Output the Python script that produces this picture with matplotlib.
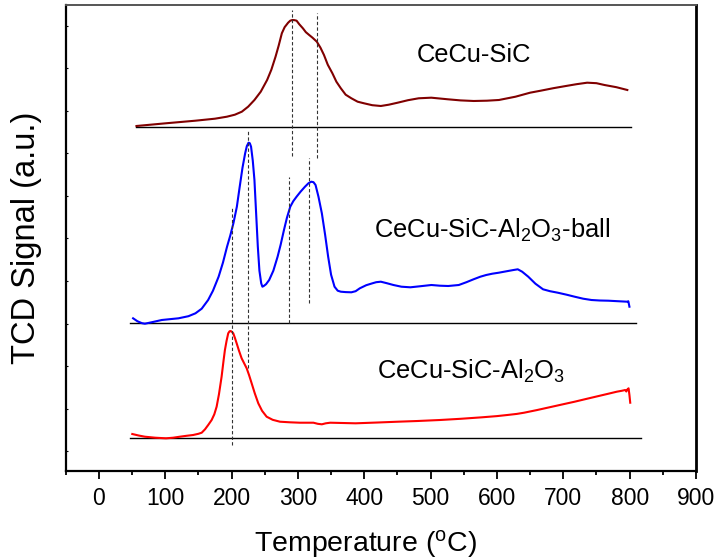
import numpy as np
import matplotlib
matplotlib.use('Agg')
import matplotlib.pyplot as plt
from matplotlib.ticker import MultipleLocator

plt.rcParams['font.family'] = ['Liberation Sans', 'DejaVu Sans']
plt.rcParams['mathtext.default'] = 'regular'

# temperature (C) and TCD signal above each baseline (a.u.)
t_sic = [56.7, 101, 145.6, 175, 193, 205, 215.5, 225, 234.5, 244, 253.6, 260, 266.3, 271,
         275.8, 280, 285.3, 288.5, 291.7, 295, 298, 302, 307.5, 312, 317, 322, 328.5, 334,
         339.3, 345, 352, 358, 364.7, 372, 380.6, 390, 399.6, 412, 425, 437, 450.4, 466,
         482, 501, 526, 545, 565, 585, 603, 628, 650, 666, 685, 704, 720, 736, 750, 762,
         780, 796.5]
s_sic = [0.7, 3.4, 6, 8, 10, 12, 15, 20, 26.7, 35, 46.7, 57, 70, 81,
         93.4, 99.5, 104, 106, 106.7, 106.5, 106, 102.5, 98.4, 94.5, 91.7, 89, 85, 79,
         71.7, 62, 53.4, 45, 38.4, 32, 28.4, 25, 23.4, 21.5, 20.7, 22, 24, 26.5,
         28.4, 29, 27.4, 26.3, 25.7, 26, 26.7, 30, 34, 36, 38.5, 40.7, 42.5, 44, 43.5, 41.7,
         39.5, 36.7]

t_ball = [51.6, 58, 65, 69.4, 80, 94.8, 120, 135, 145.6, 155, 164.7, 172, 180.5, 187,
          193.2, 198, 202.8, 208, 212.3, 216.5, 220.5, 223, 225.6, 227.5, 229.4, 232, 234.5,
          237, 239.6, 242, 244.7, 246.5, 248.5, 252, 256.7, 263, 269.4, 274, 279, 283.5,
          288.5, 293, 298, 304, 310.7, 316, 320.2, 323.5, 326.6, 331, 336.1, 341, 345.6,
          350, 355.2, 360, 364.7, 372, 380.6, 387, 393.3, 403, 412.3, 418, 425, 434, 444,
          456, 469.5, 485, 501.2, 514, 526.6, 542.5, 554, 564.7, 575, 583.8, 593, 602.8,
          615, 625, 631.4, 638, 647.2, 658, 669.5, 680, 691.7, 705, 717.1, 730, 742.5, 755,
          767.9, 782, 796.5, 798, 799.7]
s_ball = [4.4, 1.5, -0.5, -1, 0.5, 2.7, 4.4, 6.5, 9.4, 14, 22.7, 32, 46, 60,
          76, 87, 99.4, 116, 136, 155, 169.4, 176.5, 180, 179.5, 176, 162, 142.7,
          110, 76, 52, 39.4, 36, 36.7, 38.5, 42.7, 52, 66, 78, 92.7, 105,
          116, 121.5, 126, 131, 136, 139.5, 141, 140.5, 137.7, 126, 109.4, 88, 66,
          48, 36, 32, 31, 30.6, 30.4, 31.5, 34.4, 37.5, 39.4, 40.5, 41, 39.5, 37.7,
          36, 35.4, 36.5, 37.7, 37, 36.7, 37.7, 40.5, 43.4, 46, 47.7, 49, 50,
          51.5, 52.7, 53.4, 51, 46, 39, 33.4, 31.5, 30, 28, 26, 24, 22.7, 22.2,
          22, 21.5, 21, 21.5, 16]

t_al = [50.4, 60, 69.4, 85, 101.2, 112, 122, 132, 142, 150, 155, 160, 165, 170, 174,
        177.5, 181, 185, 188, 190, 192.5, 195, 197, 198.6, 200.5, 202.6, 205, 207.7, 211,
        215.2, 219, 222.8, 226.5, 230.3, 235, 240.3, 246, 252.9, 262, 273, 288, 303,
        323.4, 330, 336.1, 342, 348.8, 386.9, 420, 450.4, 480, 513.9, 545, 577.4, 600,
        615.5, 630, 640.9, 660, 679, 698, 717.1, 736, 755.2, 768, 780.6, 788, 793.3, 795,
        796.5, 798.4, 799.7, 800.9]
s_al = [4.3, 2.8, 1.6, 0.6, 0, 0.6, 1.6, 2.5, 3.3, 4.5, 5.6, 9, 13.5, 18.3, 24,
        31.6, 44, 61.6, 78, 88.3, 97.5, 105, 107, 107.3, 106.5, 105, 100.5, 95, 88,
        80, 75, 70, 63, 55, 45, 35, 27.5, 21.6, 18.5, 16.6, 16, 15.6,
        15.6, 14.5, 14, 15, 15.6, 15, 15.8, 16.6, 17.3, 18.3, 19.5, 21, 22.2,
        23.3, 24.4, 25.6, 28.2, 31, 33.8, 36.6, 39.6, 42.6, 44.6, 46.6, 47.5, 48.3, 46.8,
        48.8, 50, 43.3, 35.6]

names = ['CeCu-SiC', 'CeCu-SiC-Al$_2$O$_3$-ball', 'CeCu-SiC-Al$_2$O$_3$']
colors = ['#800000', '#0000ff', '#ff0000']
offsets = [343.8, 147.8, 32.2]
base_ranges = [(56.7, 802.7), (47.2, 809.2), (47.2, 817.4)]
label_pos = [(479, 415.5), (415, 240.5), (419, 98.8)]

# peak guide lines: temperature, lower and upper end
guide_t = [291.7, 328.5, 225.0, 317.1, 287.2, 200.5]
guide_lo = [314.5, 312.5, 102.5, 167.5, 147.5, 25.5]
guide_hi = [460.5, 457.5, 340.5, 312.5, 293.5, 262.5]

fig = plt.figure(figsize=(7.21, 5.60), dpi=100)
ax = fig.add_axes([0.0911, 0.1598, 0.8742, 0.8313])

curves = [(t_sic, s_sic), (t_ball, s_ball), (t_al, s_al)]
for (t, s), off, c, (b0, b1), name, (lx, ly) in zip(curves, offsets, colors, base_ranges, names, label_pos):
    ax.plot([b0, b1], [off, off], color='black', lw=1.0)
    ax.plot(t, np.array(s) + off, color=c, lw=1.5)
    ax.text(lx, ly, name, fontsize=18.4, va='center', ha='left')

ax.vlines(guide_t, guide_lo, guide_hi, colors='#333333', linestyles=(0, (3, 2)), lw=0.8)

ax.set_xlim(-50, 900)
ax.set_ylim(0, 465.5)
ax.xaxis.set_major_locator(MultipleLocator(100))
ax.xaxis.set_minor_locator(MultipleLocator(50))
ax.set_yticks(np.arange(19.5, 460, 42.5))
ax.set_yticklabels([])
ax.tick_params(axis='x', which='major', direction='out', length=6, width=1.3, labelsize=16.5, pad=6)
ax.tick_params(axis='x', which='minor', direction='out', length=3, width=1.3)
ax.tick_params(axis='y', direction='in', length=1.2, width=0.8)

for side in ['left', 'bottom']:
    ax.spines[side].set_linewidth(1.6)
ax.spines['right'].set_linewidth(2.0)
ax.spines['top'].set_linewidth(1.4)
ax.spines['top'].set_color('#555555')

ax.set_xlabel('Temperature ($^{o}$C)', fontsize=20.5)
ax.xaxis.set_label_coords(0.4757, -0.1235)
ax.set_ylabel('TCD Signal (a.u.)', fontsize=23.5)
ax.yaxis.set_label_coords(-0.037, 0.5)

fig.savefig('out.png', dpi=100)
